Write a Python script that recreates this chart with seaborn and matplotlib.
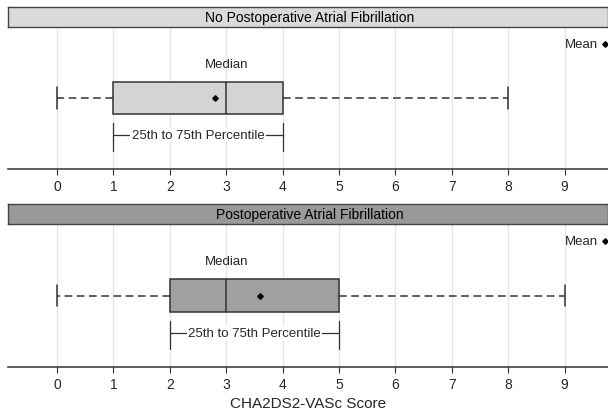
import matplotlib
matplotlib.use("Agg")
import matplotlib.pyplot as plt
import seaborn as sns

# summary statistics
GROUPS = ["No Postoperative Atrial Fibrillation", "Postoperative Atrial Fibrillation"]
MINS = [0, 0]
Q1S = [1, 2]
MEDIANS = [3, 3]
Q3S = [4, 5]
MAXS = [8, 9]
MEANS = [2.8, 3.6]
TICKS = list(range(0, 10))
XLABEL = "CHA2DS2-VASc Score"

BOX_COLORS = ["#d4d4d4", "#a0a0a0"]
HEAD_COLORS = ["#dadada", "#999999"]

sns.set_theme(style="whitegrid")
plt.rcParams["font.family"] = ["Liberation Sans", "DejaVu Sans"]

W, H = 608, 414
fig = plt.figure(figsize=(W / 100, H / 100), dpi=100)

# pixel layout: (header top, plot top, plot bottom)
panels = [(8, 28, 170), (205, 225, 368)]
left_px = 8
XMIN, XMAX = -0.87, 9.77


def draw_panel(i):
    head_top, top, bottom = panels[i]
    ax = fig.add_axes([left_px / W, 1 - bottom / H, 1 - left_px / W, (bottom - top) / H])
    hx = fig.add_axes([left_px / W, 1 - top / H, 1 - left_px / W, (top - head_top) / H])
    hx.set_facecolor(HEAD_COLORS[i])
    hx.set_xticks([])
    hx.set_yticks([])
    for s in hx.spines.values():
        s.set_color("#444444")
        s.set_linewidth(1.0)
    hx.text(0.503, 0.5, GROUPS[i], ha="center", va="center",
            fontsize=10, color="black", transform=hx.transAxes)

    stats = [{
        "whislo": MINS[i], "q1": Q1S[i], "med": MEDIANS[i],
        "q3": Q3S[i], "whishi": MAXS[i], "mean": MEANS[i], "fliers": [],
    }]
    ax.bxp(stats, positions=[0], widths=0.45, vert=False, showmeans=True,
           patch_artist=True, capwidths=0.3,
           boxprops=dict(facecolor=BOX_COLORS[i], edgecolor="#333333", linewidth=1.1),
           medianprops=dict(color="#333333", linewidth=1.1),
           whiskerprops=dict(color="#333333", linestyle=(0, (5, 3)), linewidth=1.1),
           capprops=dict(color="#333333", linewidth=1.1),
           meanprops=dict(marker="D", markerfacecolor="black", markeredgecolor="black",
                          markersize=2.8))

    ax.set_xlim(XMIN, XMAX)
    ax.set_ylim(-1, 1)
    ax.set_xticks(TICKS)
    ax.set_xticklabels([str(t) for t in TICKS], fontsize=10)
    ax.set_yticks([])
    ax.grid(axis="x", color="#e6e6e6", linewidth=0.9)
    ax.grid(axis="y", visible=False)
    ax.set_facecolor("white")
    for name, s in ax.spines.items():
        s.set_visible(name == "bottom")
    ax.spines["bottom"].set_color("#333333")
    ax.spines["bottom"].set_linewidth(1.1)
    ax.tick_params(axis="x", bottom=True, length=4, width=0.8, color="#333333", pad=3)

    # annotations
    ax.text(MEDIANS[i], 0.48, "Median", ha="center", va="center", fontsize=9.5)
    q1, q3 = Q1S[i], Q3S[i]
    yb = -0.52
    ax.plot([q1, q3], [yb, yb], color="#333333", linewidth=0.9)
    ax.plot([q1, q1], [yb + 0.17, yb - 0.23], color="#333333", linewidth=0.9)
    ax.plot([q3, q3], [yb + 0.17, yb - 0.23], color="#333333", linewidth=0.9)
    ax.text((q1 + q3) / 2, yb, "25th to 75th Percentile", ha="center", va="center",
            fontsize=9.5, bbox=dict(facecolor="white", edgecolor="none", pad=1.0))

    ax.text(9.6, 0.76, "Mean", ha="right", va="center", fontsize=9.5)
    ax.plot([9.72], [0.76], marker="D", color="black", markersize=2.8, clip_on=False)
    return ax


ax1 = draw_panel(0)
ax2 = draw_panel(1)
ax2.set_xlabel(XLABEL, fontsize=11, labelpad=4)

fig.savefig("out.png", dpi=100)
